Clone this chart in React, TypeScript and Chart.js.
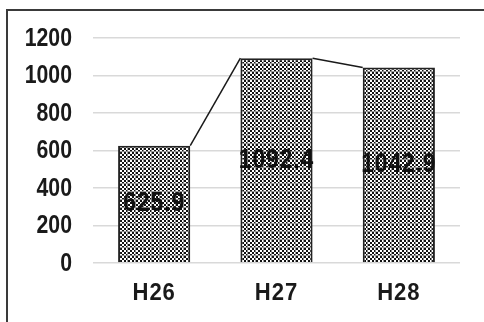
import React, { useEffect, useRef } from "react";
import { Chart, registerables } from "chart.js";

Chart.register(...registerables);

const categories = ["H26", "H27", "H28"];
const values = [625.9, 1092.4, 1042.9];
const yTicks = [0, 200, 400, 600, 800, 1000, 1200];

function makePattern(): CanvasPattern | string {
  const c = document.createElement("canvas");
  c.width = 8;
  c.height = 8;
  const g = c.getContext("2d");
  if (!g) return "#808080";
  g.fillStyle = "#ffffff";
  g.fillRect(0, 0, 8, 8);
  for (let y = 0; y < 8; y++) {
    for (let x = 0; x < 8; x++) {
      if ((Math.floor(x / 2) + Math.floor(y / 2)) % 2 === 0) {
        g.fillStyle = "#111111";
        g.fillRect(x, y, 1, 1);
      }
    }
  }
  g.fillStyle = "rgba(150,150,150,0.9)";
  g.fillRect(7, 0, 1, 8);
  g.fillRect(0, 7, 8, 1);
  const p = g.createPattern(c, "repeat");
  return p || "#808080";
}

function drawScaledText(
  ctx: CanvasRenderingContext2D,
  text: string,
  x: number,
  y: number,
  font: string,
  scaleX: number,
  align: CanvasTextAlign,
  color: string,
  spacing = "0px"
) {
  ctx.save();
  ctx.translate(x, y);
  ctx.scale(scaleX, 1);
  ctx.font = font;
  (ctx as any).letterSpacing = spacing;
  ctx.fillStyle = color;
  ctx.textAlign = align;
  ctx.textBaseline = "middle";
  ctx.fillText(text, 0, 0);
  ctx.restore();
}

const customPlugin = {
  id: "custom",
  afterDatasetsDraw(chart: any) {
    const ctx: CanvasRenderingContext2D = chart.ctx;
    const meta = chart.getDatasetMeta(0);
    const bars = meta.data;
    ctx.save();
    ctx.strokeStyle = "#1a1a1a";
    ctx.lineWidth = 1.5;
    for (let i = 0; i < bars.length - 1; i++) {
      const a = bars[i].getProps(["x", "y", "width"], true);
      const b = bars[i + 1].getProps(["x", "y", "width"], true);
      ctx.beginPath();
      ctx.moveTo(a.x + a.width / 2, a.y);
      ctx.lineTo(b.x - b.width / 2, b.y);
      ctx.stroke();
    }
    ctx.restore();
    bars.forEach((bar: any, i: number) => {
      const p = bar.getProps(["x", "y", "base"], true);
      drawScaledText(
        ctx,
        String(values[i].toFixed(1)),
        p.x,
        (p.y + p.base) / 2,
        "bold 27px 'Liberation Sans'",
        0.85,
        "center",
        "#111111",
        "1px"
      );
    });
  },
  afterDraw(chart: any) {
    const ctx: CanvasRenderingContext2D = chart.ctx;
    const ys = chart.scales.y;
    const xs = chart.scales.x;
    yTicks.forEach((v) => {
      drawScaledText(
        ctx,
        String(v),
        72,
        ys.getPixelForValue(v) + 1,
        "bold 25px 'Liberation Sans'",
        0.85,
        "right",
        "#1a1a1a"
      );
    });
    categories.forEach((c, i) => {
      drawScaledText(
        ctx,
        c,
        xs.getPixelForValue(i),
        ys.bottom + 30,
        "bold 24px 'Liberation Sans'",
        0.92,
        "center",
        "#1a1a1a",
        "1px"
      );
    });
    ctx.save();
    ctx.strokeStyle = "#3a3a3a";
    ctx.lineWidth = 2;
    ctx.beginPath();
    ctx.moveTo(7, 400);
    ctx.lineTo(7, 10);
    ctx.lineTo(600, 10);
    ctx.stroke();
    ctx.restore();
  },
};

export default function App() {
  const ref = useRef<HTMLCanvasElement | null>(null);
  useEffect(() => {
    document.body.style.margin = "0";
    const canvas = ref.current;
    if (!canvas) return;
    const chart = new Chart(canvas, {
      type: "bar",
      data: {
        labels: categories,
        datasets: [
          {
            data: values,
            backgroundColor: makePattern() as any,
            borderColor: "#222222",
            borderWidth: 2,
            categoryPercentage: 1,
            barPercentage: 0.59,
          },
        ],
      },
      options: {
        animation: false,
        responsive: false,
        devicePixelRatio: 1,
        layout: { padding: { left: 0, right: 24, top: 38, bottom: 0 } },
        plugins: { legend: { display: false }, tooltip: { enabled: false } },
        scales: {
          x: {
            grid: { display: false },
            border: { display: false },
            ticks: { display: false },
            afterFit: (s: any) => {
              s.height = 59;
            },
          },
          y: {
            min: 0,
            max: 1200,
            ticks: { display: false, stepSize: 200 },
            grid: { color: "#d9d9d9", lineWidth: 1.5, drawTicks: false },
            border: { display: false },
            afterFit: (s: any) => {
              s.width = 93;
            },
          },
        },
      },
      plugins: [customPlugin],
    });
    return () => chart.destroy();
  }, []);
  return (
    <div style={{ width: 484, height: 322, background: "#fff" }}>
      <canvas ref={ref} width={484} height={322} style={{ display: "block" }} />
    </div>
  );
}
